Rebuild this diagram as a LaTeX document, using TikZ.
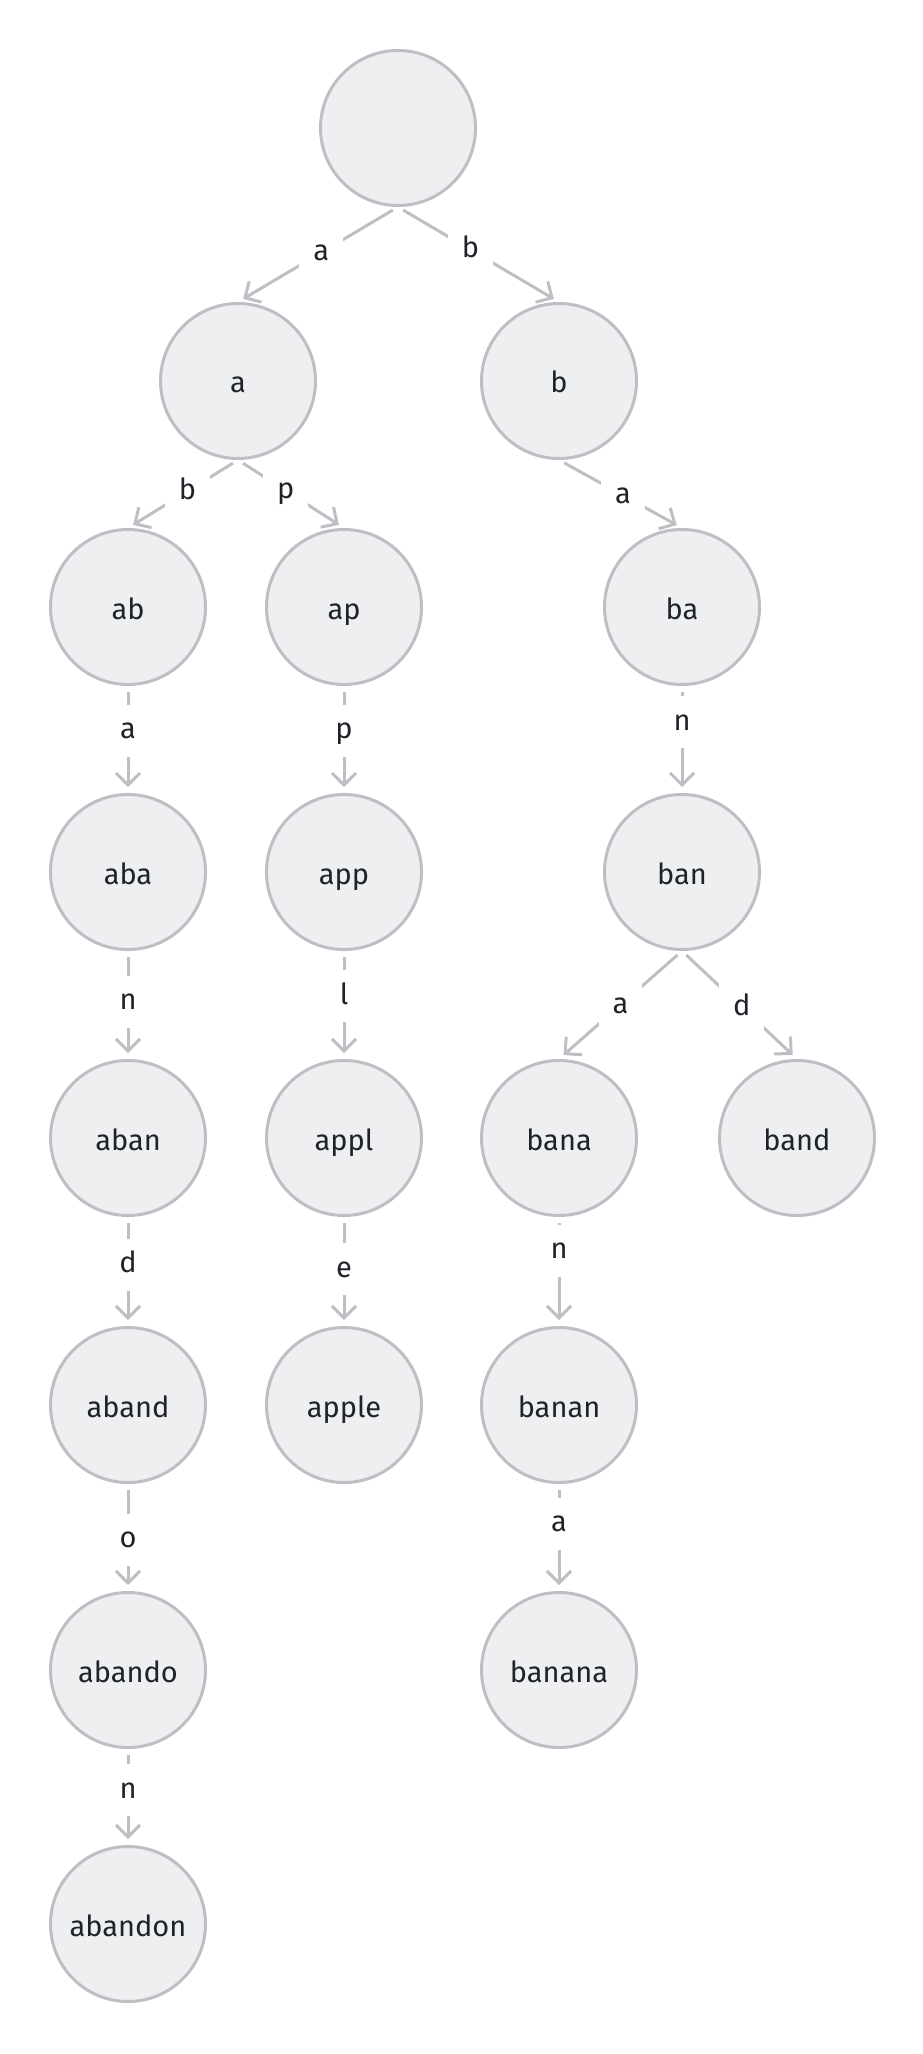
\documentclass[tikz,border=0pt]{standalone}
\usepackage{fontspec}
\setmainfont{Fira Sans}
\usetikzlibrary{arrows.meta}
\definecolor{nodefill}{HTML}{EEEFF1}
\definecolor{nodeline}{HTML}{BDBFC4}
\definecolor{textcol}{HTML}{1F2329}
\tikzset{
  trie/.style={circle,draw=nodeline,fill=nodefill,line width=1.5pt,minimum size=77.5pt,inner sep=0pt,text=textcol,text height=12pt,text depth=0pt,font=\fontsize{14.5}{17}\selectfont},
  link/.style={draw=nodeline,line width=1.5pt,-{Straight Barb[length=6pt,width=12pt]},shorten <=3pt,shorten >=3pt},
  lbl/.style={fill=white,text=textcol,inner xsep=7pt,inner ysep=6pt,text height=11pt,text depth=3pt,font=\fontsize{14.5}{17}\selectfont}
}
\begin{document}
\begin{tikzpicture}[x=0.5pt,y=-0.5pt]
  \useasboundingbox (0,0) rectangle (922,2054);
  % nodes
  \node[trie] (root) at (398,128) {};
  \node[trie] (a) at (238,381) {a};
  \node[trie] (b) at (559,381) {b};
  \node[trie] (ab) at (128,607) {ab};
  \node[trie] (ap) at (344,607) {ap};
  \node[trie] (ba) at (682,607) {ba};
  \node[trie] (aba) at (128,872) {aba};
  \node[trie] (app) at (344,872) {app};
  \node[trie] (ban) at (682,872) {ban};
  \node[trie] (aban) at (128,1138) {aban};
  \node[trie] (appl) at (344,1138) {appl};
  \node[trie] (bana) at (559,1138) {bana};
  \node[trie] (band) at (797,1138) {band};
  \node[trie] (aband) at (128,1405) {aband};
  \node[trie] (apple) at (344,1405) {apple};
  \node[trie] (banan) at (559,1405) {banan};
  \node[trie] (abando) at (128,1670) {abando};
  \node[trie] (banana) at (559,1670) {banana};
  \node[trie] (abandon) at (128,1924) {abandon};
  % edges
  \draw[link] (root.south) -- node[lbl,pos=0.48]{a} (a.north);
  \draw[link] (root.south) -- node[lbl,pos=0.45]{b} (b.north);
  \draw[link] (a.south) -- node[lbl,pos=0.46]{b} (ab.north);
  \draw[link] (a.south) -- node[lbl,pos=0.45]{p} (ap.north);
  \draw[link] (b.south) -- node[lbl,pos=0.52]{a} (ba.north);
  \draw[link] (ab.south) -- node[lbl,pos=0.42]{a} (aba.north);
  \draw[link] (ap.south) -- node[lbl,pos=0.42]{p} (app.north);
  \draw[link] (ba.south) -- node[lbl,pos=0.34]{n} (ban.north);
  \draw[link] (aba.south) -- node[lbl,pos=0.47]{n} (aban.north);
  \draw[link] (app.south) -- node[lbl,pos=0.42]{l} (appl.north);
  \draw[link] (ban.south) -- node[lbl,pos=0.5]{a} (bana.north);
  \draw[link] (ban.south) -- node[lbl,pos=0.52]{d} (band.north);
  \draw[link] (aban.south) -- node[lbl,pos=0.44]{d} (aband.north);
  \draw[link] (appl.south) -- node[lbl,pos=0.48]{e} (apple.north);
  \draw[link] (bana.south) -- node[lbl,pos=0.31]{n} (banan.north);
  \draw[link] (aband.south) -- node[lbl,pos=0.52]{o} (abando.north);
  \draw[link] (banan.south) -- node[lbl,pos=0.37]{a} (banana.north);
  \draw[link] (abando.south) -- node[lbl,pos=0.43]{n} (abandon.north);
\end{tikzpicture}
\end{document}
